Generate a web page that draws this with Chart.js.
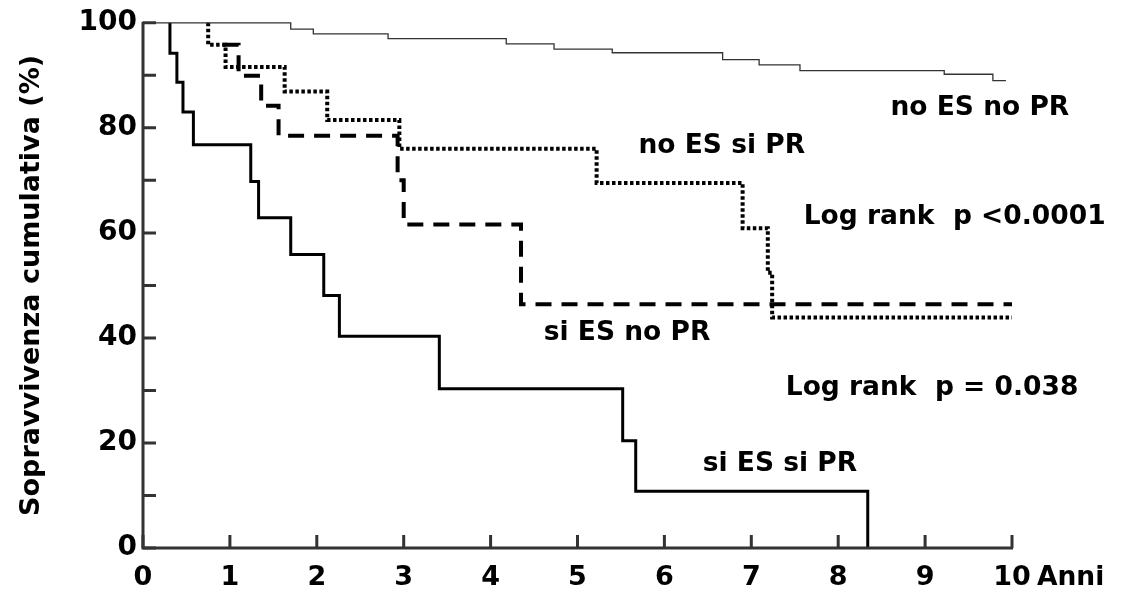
<!DOCTYPE html>
<html>
<head>
<meta charset="utf-8">
<script src="https://cdn.jsdelivr.net/npm/chart.js@4/dist/chart.umd.min.js"></script>
<style>
  html, body { margin: 0; padding: 0; background: #fff; }
  #wrap { width: 1137px; height: 593px; }
</style>
</head>
<body>
<div id="wrap"><canvas id="km"></canvas></div>
<script>
// ---- dati (anni, sopravvivenza %) ----
// no ES no PR (linea sottile)
const noEsNoPrT = [0, 1.70, 1.96, 2.82, 4.18, 4.73, 5.40, 6.67, 7.09, 7.56, 9.22, 9.78, 9.93];
const noEsNoPrS = [100, 98.8, 97.9, 97.0, 96.0, 95.0, 94.3, 93.0, 92.0, 90.9, 90.2, 89.0, 89.0];
// no ES si PR (punteggiata)
const noEsSiPrT = [0.75, 0.75, 0.95, 1.63, 2.12, 2.95, 5.22, 6.90, 7.19, 7.24, 10];
const noEsSiPrS = [100, 95.8, 91.6, 86.9, 81.5, 76.0, 69.5, 60.9, 52.4, 43.9, 43.9];
// si ES no PR (tratteggiata)
const siEsNoPrT = [0.92, 1.10, 1.36, 1.56, 2.93, 3.00, 4.35, 10];
const siEsNoPrS = [95.8, 89.9, 84.2, 78.5, 70.0, 61.6, 46.4, 46.4];
// si ES si PR (continua spessa)
const siEsSiPrT = [0.31, 0.31, 0.39, 0.46, 0.58, 1.24, 1.33, 1.70, 2.08, 2.26, 3.41, 5.52, 5.67, 8.34];
const siEsSiPrS = [100, 94.2, 88.7, 83.0, 76.8, 69.8, 62.9, 55.9, 48.1, 40.3, 30.3, 20.4, 10.8, 0];

const xTicks = [0, 1, 2, 3, 4, 5, 6, 7, 8, 9, 10];
const yLabelTicks = [0, 20, 40, 60, 80, 100];

// testi sul grafico (posizione in unita' dei dati)
const notes = [
  { text: 'no ES no PR', x: 9.63, y: 83.7 },
  { text: 'no ES si PR', x: 6.66, y: 76.6 },
  { text: 'Log rank  p <0.0001', x: 9.34, y: 63.0 },
  { text: 'si ES no PR', x: 5.57, y: 41.0 },
  { text: 'Log rank  p = 0.038', x: 9.08, y: 30.5 },
  { text: 'si ES si PR', x: 7.33, y: 15.9 }
];

const FONT = 'DejaVu Sans';
const AXIS_COLOR = '#333';

function toPoints(t, s) {
  return t.map((v, i) => ({ x: v, y: s[i] }));
}

// assi, tacche interne e testi
const decorPlugin = {
  id: 'decor',
  afterDatasetsDraw(chart) {
    const ctx = chart.ctx;
    const a = chart.chartArea;
    const xs = chart.scales.x, ys = chart.scales.y;
    ctx.save();
    ctx.strokeStyle = AXIS_COLOR;
    ctx.lineWidth = 3;
    ctx.lineCap = 'butt';
    ctx.beginPath();
    ctx.moveTo(a.left, a.top - 1);
    ctx.lineTo(a.left, a.bottom);
    ctx.lineTo(a.right + 1, a.bottom);
    ctx.stroke();
    // tacche
    ctx.beginPath();
    for (let v = 0; v <= 100; v += 10) {
      const py = ys.getPixelForValue(v);
      ctx.moveTo(a.left, py);
      ctx.lineTo(a.left + 13, py);
    }
    xTicks.forEach(v => {
      const px = xs.getPixelForValue(v);
      ctx.moveTo(px, a.bottom);
      ctx.lineTo(px, a.bottom - 13);
    });
    ctx.stroke();

    ctx.fillStyle = '#000';
    ctx.textBaseline = 'middle';
    ctx.textAlign = 'center';
    ctx.font = 'bold 26.5px "' + FONT + '"';
    notes.forEach(n => {
      ctx.fillText(n.text, xs.getPixelForValue(n.x), ys.getPixelForValue(n.y));
    });
    ctx.textAlign = 'left';
    ctx.fillText('Anni', 1037, 578);

    ctx.translate(32, (a.top + a.bottom) / 2);
    ctx.rotate(-Math.PI / 2);
    ctx.textAlign = 'center';
    ctx.font = 'bold 27px "' + FONT + '"';
    ctx.fillText('Sopravvivenza cumulativa (%)', 0, 0);
    ctx.restore();
  }
};

new Chart(document.getElementById('km'), {
  type: 'line',
  data: {
    datasets: [
      {
        label: 'no ES no PR',
        data: toPoints(noEsNoPrT, noEsNoPrS),
        borderColor: '#333',
        borderWidth: 1.3
      },
      {
        label: 'no ES si PR',
        data: toPoints(noEsSiPrT, noEsSiPrS),
        borderColor: '#000',
        borderWidth: 4,
        borderDash: [3.5, 2.5]
      },
      {
        label: 'si ES no PR',
        data: toPoints(siEsNoPrT, siEsNoPrS),
        borderColor: '#000',
        borderWidth: 4,
        borderDash: [16, 10]
      },
      {
        label: 'si ES si PR',
        data: toPoints(siEsSiPrT, siEsSiPrS),
        borderColor: '#000',
        borderWidth: 3
      }
    ]
  },
  options: {
    responsive: true,
    maintainAspectRatio: false,
    animation: false,
    clip: false,
    layout: { padding: { left: 0, top: 21, right: 125, bottom: 0 } },
    elements: {
      line: { stepped: 'before', tension: 0, fill: false, capBezierPoints: false },
      point: { radius: 0, hoverRadius: 0 }
    },
    plugins: {
      legend: { display: false },
      tooltip: { enabled: false }
    },
    scales: {
      x: {
        type: 'linear',
        min: 0,
        max: 10,
        afterBuildTicks: s => { s.ticks = xTicks.map(v => ({ value: v })); },
        afterFit: s => { s.height = 45; },
        grid: { display: false, drawTicks: false },
        border: { display: false },
        ticks: {
          padding: 14,
          color: '#000',
          maxRotation: 0,
          font: { family: FONT, weight: 'bold', size: 27 }
        }
      },
      y: {
        type: 'linear',
        min: 0,
        max: 100,
        afterBuildTicks: s => { s.ticks = yLabelTicks.map(v => ({ value: v })); },
        afterFit: s => { s.width = 143; },
        grid: { display: false, drawTicks: false },
        border: { display: false },
        ticks: {
          padding: 6,
          color: '#000',
          font: { family: FONT, weight: 'bold', size: 28 }
        }
      }
    }
  },
  plugins: [decorPlugin]
});
</script>
</body>
</html>
